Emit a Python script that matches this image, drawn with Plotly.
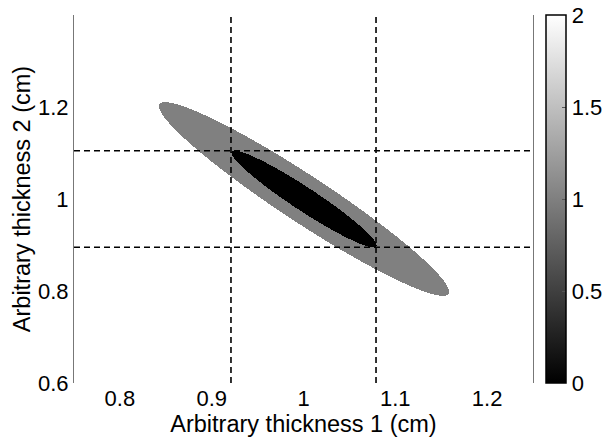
import numpy as np
import plotly.graph_objects as go

# ---- data ----
center = [1.0, 1.0]                 # ellipse centre (thickness 1, thickness 2)
sigmas = [0.079, 0.105]             # 1-sigma extents
rho = -0.957                        # correlation
chi2_levels = [1.0, 4.0]            # inner / outer contour levels
region_values = [0, 1, 2]           # inside inner, between, outside
x_lines = [0.921, 1.079]            # vertical dashed lines
y_lines = [0.895, 1.105]            # horizontal dashed lines
x_ticks = [0.8, 0.9, 1.0, 1.1, 1.2]
x_ticklabels = ["0.8", "0.9", "1", "1.1", "1.2"]
y_ticks = [0.6, 0.8, 1.0, 1.2]
y_ticklabels = ["0.6", "0.8", "1", "1.2"]
cb_ticks = [0, 0.5, 1, 1.5, 2]
cb_ticklabels = ["0", "0.5", "1", "1.5", "2"]
x_range = [0.75, 1.25]
y_range = [0.6, 1.4]

# ---- grid for the image ----
xs = np.linspace(x_range[0], x_range[1], 460)
ys = np.linspace(y_range[0], y_range[1], 370)
X, Y = np.meshgrid(xs, ys)
u = (X - center[0]) / sigmas[0]
v = (Y - center[1]) / sigmas[1]
chi2 = (u**2 - 2 * rho * u * v + v**2) / (1 - rho**2)
Z = np.where(chi2 <= chi2_levels[0], region_values[0],
             np.where(chi2 <= chi2_levels[1], region_values[1], region_values[2]))

FONT = "Liberation Sans, Arial, sans-serif"
W, H = 603, 438
L, R, T, B = 74, 70, 15, 55

fig = go.Figure()
fig.add_trace(go.Heatmap(
    x=xs, y=ys, z=Z, zmin=0, zmax=2,
    colorscale=[[0, "black"], [1, "white"]],
    showscale=True,
    colorbar=dict(
        x=(546 - L) / (W - L - R), xanchor="left", xpad=0, ypad=0,
        y=0.5, yanchor="middle",
        thickness=20, len=1.0, lenmode="fraction",
        outlinecolor="black", outlinewidth=1.5,
        tickvals=cb_ticks, ticktext=cb_ticklabels,
        ticks="inside", ticklen=4, tickcolor="#555",
        tickfont=dict(family=FONT, size=22, color="black"),
    ),
    hoverinfo="skip",
))

for xv in x_lines:
    fig.add_trace(go.Scatter(x=[xv, xv], y=y_range, mode="lines",
                             line=dict(color="black", width=1.6, dash="6px,4px"),
                             showlegend=False, hoverinfo="skip"))
for yv in y_lines:
    fig.add_trace(go.Scatter(x=[x_range[0], x_range[1] - 0.003], y=[yv, yv], mode="lines",
                             line=dict(color="black", width=1.6, dash="6px,4px"),
                             showlegend=False, hoverinfo="skip"))

fig.update_layout(
    width=W, height=H,
    margin=dict(l=L, r=R, t=T, b=B, autoexpand=False),
    paper_bgcolor="white", plot_bgcolor="white",
    font=dict(family=FONT, size=22, color="black"),
    showlegend=False,
    xaxis=dict(range=x_range, tickvals=x_ticks, ticktext=x_ticklabels,
               showgrid=False, zeroline=False, showline=False, ticks="",
               tickfont=dict(size=22),
               title=dict(text="Arbitrary thickness 1 (cm)", font=dict(size=23.5), standoff=0)),
    yaxis=dict(range=y_range, tickvals=y_ticks, ticktext=y_ticklabels,
               showgrid=False, zeroline=False, showline=True, mirror=True,
               linecolor="#777", linewidth=1, ticks="",
               tickfont=dict(size=22),
               title=dict(text="Arbitrary thickness 2 (cm)", font=dict(size=23.5), standoff=0)),
)

fig.write_html("out.html")
